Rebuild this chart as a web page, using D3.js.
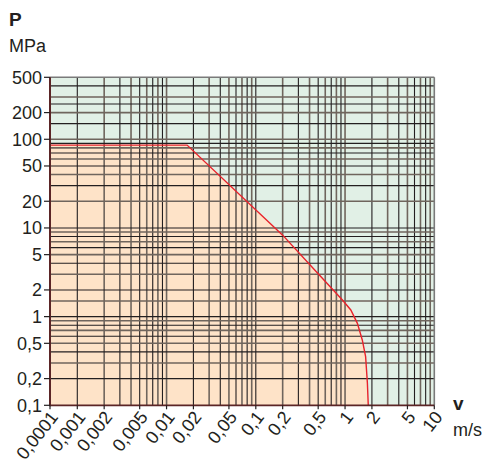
<!DOCTYPE html>
<html>
<head>
<meta charset="utf-8">
<script src="https://cdn.jsdelivr.net/npm/d3@7"></script>
<style>
  html, body { margin: 0; padding: 0; background: #fff; }
  svg { display: block; font-family: "Liberation Sans", Arial, sans-serif; }
</style>
</head>
<body>
<svg id="chart" width="487" height="462"></svg>
<script>
// ---- data ----
const xTicks = [0.0001, 0.001, 0.002, 0.005, 0.01, 0.02, 0.05, 0.1, 0.2, 0.5, 1, 2, 5, 10];
const xTickLabels = ["0,0001", "0,001", "0,002", "0,005", "0,01", "0,02", "0,05", "0,1", "0,2", "0,5", "1", "2", "5", "10"];
const yTicks = [500, 200, 100, 50, 20, 10, 5, 2, 1, 0.5, 0.2, 0.1];
const yTickLabels = ["500", "200", "100", "50", "20", "10", "5", "2", "1", "0,5", "0,2", "0,1"];
const xGrid = [0.001, 0.002, 0.003, 0.004, 0.005, 0.006, 0.007, 0.008, 0.009,
               0.01, 0.02, 0.03, 0.04, 0.05, 0.06, 0.07, 0.08, 0.09,
               0.1, 0.2, 0.3, 0.4, 0.5, 0.6, 0.7, 0.8, 0.9,
               1, 2, 3, 4, 5, 6, 7, 8, 9];
const yGrid = [0.2, 0.3, 0.4, 0.5, 0.6, 0.7, 0.8, 0.9,
               1, 1.5, 2, 3, 4, 5, 6, 7, 8, 9,
               10, 20, 30, 40, 50, 60, 70, 80, 90,
               100, 150, 200, 250, 300, 400];
const limitV = [0.0001, 0.017, 0.2, 0.5, 0.935, 1.16, 1.375, 1.56, 1.70, 1.78, 1.82];
const limitP = [86, 86, 8.3, 3.05, 1.54, 1.19, 0.84, 0.546, 0.354, 0.177, 0.1];

// ---- scales ----
const pLeft = 50, pRight = 434.3, pTop = 77.3, pBottom = 405.3;
const x = d3.scaleLog().domain([0.0001, 0.001, 10]).range([pLeft, 77.3, pRight]);
const y = d3.scaleLog().domain([0.1, 500]).range([pBottom, pTop]);

const svg = d3.select("#chart");

// backgrounds
svg.append("rect").attr("x", pLeft).attr("y", pTop)
  .attr("width", pRight - pLeft).attr("height", pBottom - pTop)
  .attr("fill", "#e1f0e6");

const limit = limitV.map((v, i) => ({ v, p: limitP[i] }));
svg.append("path").datum(limit)
  .attr("fill", "#fee3c8")
  .attr("d", d3.area().x(d => x(d.v)).y0(y(0.1)).y1(d => y(d.p)));

// grid
const g = svg.append("g");
g.selectAll("line.vx").data(xGrid).join("line")
  .attr("x1", d => x(d)).attr("x2", d => x(d))
  .attr("y1", pTop).attr("y2", pBottom)
  .attr("stroke", (d, i) => i % 2 ? "#6f655d" : "#231f20")
  .attr("stroke-width", (d, i) => i % 2 ? 1.6 : 1.1);
g.selectAll("line.hy").data(yGrid).join("line")
  .attr("y1", d => y(d)).attr("y2", d => y(d))
  .attr("x1", pLeft).attr("x2", pRight)
  .attr("stroke", (d, i) => i % 2 ? "#6f655d" : "#231f20")
  .attr("stroke-width", (d, i) => i % 2 ? 1.6 : 1.1);

// borders
svg.append("line").attr("x1", pLeft).attr("x2", pRight).attr("y1", pTop).attr("y2", pTop)
  .attr("stroke", "#7a7a7a").attr("stroke-width", 1.6);
svg.append("line").attr("x1", pRight).attr("x2", pRight).attr("y1", pTop).attr("y2", pBottom)
  .attr("stroke", "#7a7a7a").attr("stroke-width", 1.6);

// limit curve
svg.append("path").datum(limit)
  .attr("fill", "none").attr("stroke", "#e8222b").attr("stroke-width", 1.4)
  .attr("d", d3.line().x(d => x(d.v)).y(d => y(d.p)));

svg.append("line").attr("x1", pLeft).attr("x2", pLeft).attr("y1", pTop).attr("y2", pBottom + 1)
  .attr("stroke", "#5b2526").attr("stroke-width", 2);
svg.append("line").attr("x1", pLeft).attr("x2", pRight).attr("y1", pBottom).attr("y2", pBottom)
  .attr("stroke", "#5b2526").attr("stroke-width", 1.8);

// y axis ticks + labels
const yAx = svg.append("g");
yTicks.forEach((t, i) => {
  yAx.append("line").attr("x1", pLeft - 6).attr("x2", pLeft).attr("y1", y(t)).attr("y2", y(t))
    .attr("stroke", "#231f20").attr("stroke-width", 1.2);
  yAx.append("text").attr("x", 42).attr("y", y(t)).attr("dy", "0.36em")
    .attr("text-anchor", "end").attr("font-size", 18).attr("fill", "#231f20")
    .text(yTickLabels[i]);
});

// x axis ticks + labels
const xAx = svg.append("g");
xTicks.forEach((t, i) => {
  xAx.append("line").attr("x1", x(t)).attr("x2", x(t)).attr("y1", pBottom).attr("y2", pBottom + 4)
    .attr("stroke", "#231f20").attr("stroke-width", 1.2);
  xAx.append("text")
    .attr("transform", `translate(${x(t) + 9},${pBottom + 12}) rotate(-52)`)
    .attr("text-anchor", "end").attr("font-size", 18).attr("fill", "#231f20")
    .text(xTickLabels[i]);
});

// axis titles
svg.append("text").attr("x", 9).attr("y", 26).attr("font-size", 19).attr("font-weight", "bold")
  .attr("fill", "#231f20").text("P");
svg.append("text").attr("x", 9).attr("y", 52).attr("font-size", 18)
  .attr("fill", "#231f20").text("MPa");
svg.append("text").attr("x", 453).attr("y", 410).attr("font-size", 19).attr("font-weight", "bold")
  .attr("fill", "#231f20").text("v");
svg.append("text").attr("x", 453).attr("y", 436).attr("font-size", 18)
  .attr("fill", "#231f20").text("m/s");
</script>
</body>
</html>
